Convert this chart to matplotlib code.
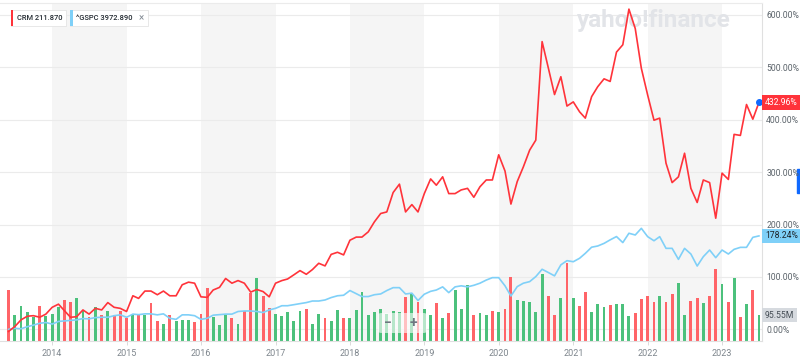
"""
CRM vs ^GSPC, percent change since mid 2013, with monthly CRM volume
"""

import pandas as pd
import matplotlib
matplotlib.use('Agg')
import matplotlib.pyplot as plt
import matplotlib.dates as mdates
from matplotlib.patches import Rectangle, FancyBboxPatch
from matplotlib.transforms import blended_transform_factory

plt.rcParams['font.family'] = ['Roboto', 'DejaVu Sans']

# monthly points, Jun 2013 .. Jul 2023
months = pd.date_range('2013-06-01', periods=122, freq='MS')

crm_pct = [
    -4, 5, 18, 25, 26, 23, 29,
    42, 48, 36, 23, 24, 37, 29, 40, 37, 51, 42, 40,
    34, 64, 59, 73, 73, 66, 73, 64, 64, 85, 90, 88,
    62, 61, 75, 80, 97, 88, 93, 88, 71, 76, 72, 62,
    88, 93, 96, 104, 112, 105, 114, 126, 121, 143, 147, 142,
    170, 176, 176, 186, 205, 221, 224, 261, 277, 224, 238, 224,
    259, 287, 275, 291, 259, 259, 266, 269, 252, 272, 285, 285,
    333, 302, 239, 282, 310, 342, 361, 549, 498, 448, 482, 426,
    434, 415, 403, 444, 463, 478, 473, 529, 543, 611, 574, 498,
    447, 399, 403, 317, 280, 291, 336, 269, 242, 285, 280, 212,
    298, 286, 372, 370, 429, 401, 432.96,
]

spx_pct = [
    0, 2, 1, 5, 8, 11.5, 13,
    10, 15, 16, 17, 18, 20.5, 20, 22.4, 23, 23, 26, 27.6,
    23, 29, 28, 29.5, 29.5, 27.6, 29.5, 21, 19, 27.6, 27.6, 26,
    19, 21, 27, 28, 29, 29, 34, 35, 35, 34, 32, 37,
    40, 45, 45, 47, 49, 51, 54, 54, 56, 60.6, 64, 65,
    74, 68, 62.5, 62.5, 66, 67.5, 74, 79.5, 79.5, 67.4, 69, 55,
    67, 72.5, 75, 81, 70, 81, 83, 81, 84, 88, 94, 98.6,
    98.6, 83, 63.5, 81.5, 88, 91, 100.6, 114.6, 108.3, 102, 123, 131,
    129, 135.6, 145, 156.7, 159, 164, 170.7, 177, 165.5, 183.3, 180, 192.7,
    176.8, 169, 176.8, 154.5, 154.5, 133.5, 154.5, 143.7, 120.8, 138.6, 151.3, 136.7,
    151.3, 143.7, 152.6, 156.4, 156.4, 175.5, 178.24,
]

# CRM volume, millions of shares
volume_m = [
    188, 97, 128, 108, 90, 127, 93,
    101, 124, 149, 143, 159, 112, 87, 124, 94, 111, 96, 110,
    85, 96, 100, 96, 139, 74, 63, 96, 75, 78, 76, 69,
    100, 194, 87, 60, 94, 85, 61, 112, 176, 231, 164, 122,
    100, 93, 106, 75, 112, 118, 63, 101, 85, 75, 113, 84,
    84, 113, 181, 97, 108, 119, 101, 111, 106, 161, 171, 145,
    119, 97, 138, 83, 102, 188, 116, 207, 95, 102, 95, 112,
    106, 119, 234, 149, 146, 145, 107, 245, 164, 94, 157, 286,
    157, 130, 181, 108, 135, 126, 133, 135, 135, 93, 102, 153,
    167, 143, 167, 143, 171, 214, 94, 146, 158, 141, 164, 264,
    208, 143, 233, 90, 137, 189, 95.55,
]

# 1 = up month (green), 0 = down month (red)
volume_up = [
    0, 1, 1, 1, 1, 0, 1,
    1, 1, 0, 0, 1, 1, 0, 1, 0, 1, 0, 0,
    0, 1, 0, 1, 0, 0, 1, 0, 1, 1, 1, 0,
    0, 0, 1, 1, 1, 0, 1, 0, 0, 1, 0, 0,
    1, 1, 1, 1, 1, 0, 1, 1, 0, 1, 1, 0,
    1, 1, 1, 1, 1, 1, 1, 1, 1, 0, 1, 0,
    1, 1, 0, 1, 0, 1, 1, 1, 0, 1, 1, 0,
    1, 0, 0, 1, 1, 1, 1, 1, 0, 0, 1, 0,
    1, 0, 0, 1, 1, 1, 0, 1, 1, 1, 0, 0,
    0, 0, 1, 0, 0, 1, 1, 0, 0, 1, 0, 0,
    1, 0, 1, 0, 1, 0, 1,
]

shaded_years = [2014, 2016, 2018, 2020, 2022]
pct_ticks = [0, 100, 200, 300, 400, 500, 600]

RED = '#ff333a'
BLUE = '#7fd0f8'
BAR_UP = '#4cc17c'
BAR_DOWN = '#ff6468'
W, H = 800, 363


def fx(x):
    return x / W


def fy(y):
    return 1 - y / H


fig = plt.figure(figsize=(8, 3.63), dpi=100)
vol_ax = fig.add_axes([0, fy(341), fx(762), (341 - 3) / H])
ax = vol_ax.twinx()
ax.set_zorder(vol_ax.get_zorder() + 1)
ax.patch.set_visible(False)

# year bands and grid behind the bars
for yr in shaded_years:
    vol_ax.axvspan(pd.Timestamp(f'{yr}-01-01'), pd.Timestamp(f'{yr + 1}-01-01'),
                   color='#f5f5f5', lw=0, zorder=0)
grid_tf = blended_transform_factory(vol_ax.transAxes, ax.transData)
for v in pct_ticks:
    vol_ax.plot([0, 1], [v, v], color='#ebebeb', lw=0.8, transform=grid_tf, zorder=0.5)

vol_ax.text(fx(654), fy(21), 'yahoo!finance', transform=fig.transFigure,
            ha='center', va='center', fontsize=17.5, fontweight='bold',
            color='#e2e4e8', zorder=0.6)

bar_colors = [BAR_UP if u else BAR_DOWN for u in volume_up]
vol_ax.bar(months, volume_m, width=14, color=bar_colors, zorder=1)
vol_ax.set_ylim(0, 338 * 3.675)

ax.plot(months, spx_pct, color=BLUE, lw=1.2, zorder=3)
ax.plot(months, crm_pct, color=RED, lw=1.2, zorder=4)
ax.plot(months[-1], crm_pct[-1], 'o', color='#0f69ff', ms=4, zorder=5, clip_on=False)

ax.set_xlim(pd.Timestamp('2013-04-20'), pd.Timestamp('2023-07-16'))
ax.set_ylim(-22.3, 622.7)

ax.set_yticks(pct_ticks)
ax.yaxis.set_major_formatter(plt.FuncFormatter(lambda v, p: f'{v:.2f}%'))
ax.tick_params(axis='y', length=0, pad=3, labelsize=6.2, labelcolor='#5b636a')

vol_ax.xaxis.set_major_locator(mdates.YearLocator())
vol_ax.xaxis.set_major_formatter(mdates.DateFormatter('%Y'))
vol_ax.tick_params(axis='x', length=3, width=0.6, color='#d5d5d5', pad=3,
                   labelsize=6.5, labelcolor='#7d858c')
vol_ax.tick_params(axis='y', left=False, labelleft=False)

for s in ax.spines.values():
    s.set_visible(False)
vol_ax.spines['left'].set_visible(False)
vol_ax.spines['top'].set_color('#ebebeb')
vol_ax.spines['bottom'].set_color('#e0e0e0')
vol_ax.spines['right'].set_color('#e0e0e0')
for s in vol_ax.spines.values():
    s.set_linewidth(0.8)

# value badges on the right axis
right_tf = blended_transform_factory(ax.transAxes, ax.transData)
ax.text(1.004, crm_pct[-1], f'{crm_pct[-1]:.2f}%', transform=right_tf, ha='left',
        va='center', fontsize=6.2, color='white', clip_on=False, zorder=6,
        bbox=dict(boxstyle='square,pad=0.3', fc=RED, ec='none'))
ax.text(1.004, spx_pct[-1], f'{spx_pct[-1]:.2f}%', transform=right_tf, ha='left',
        va='center', fontsize=6.2, color='#1d2228', clip_on=False, zorder=6,
        bbox=dict(boxstyle='square,pad=0.3', fc=BLUE, ec='none'))
vol_tf = blended_transform_factory(vol_ax.transAxes, vol_ax.transData)
vol_ax.text(1.004, volume_m[-1], f'{volume_m[-1]:.2f}M', transform=vol_tf, ha='left',
            va='center', fontsize=6.2, color='#464e56', clip_on=False, zorder=6,
            bbox=dict(boxstyle='square,pad=0.3', fc='#d6dadf', ec='none'))

fig.add_artist(Rectangle((fx(796.5), fy(193)), 3.5 / W, 24 / H,
                         transform=fig.transFigure, color='#0f69ff'))

# symbol chips, top left
for x0, x1, col, label in [(10.7, 65.7, RED, 'CRM 211.870'),
                           (70, 148, BLUE, '^GSPC 3972.890')]:
    fig.add_artist(Rectangle((fx(x0), fy(25.5)), (x1 - x0) / W, 15.5 / H,
                             transform=fig.transFigure, fc='white', ec='#e4e4e4', lw=0.6))
    fig.add_artist(Rectangle((fx(x0), fy(25.5)), 2.5 / W, 15.5 / H,
                             transform=fig.transFigure, fc=col, ec='none'))
    fig.text(fx(x0 + 6), fy(17.8), label, ha='left', va='center', fontsize=5.4,
             fontweight='medium', color='#232a31')
fig.text(fx(141.5), fy(17.8), '×', ha='center', va='center', fontsize=7, color='#828a93')

# zoom buttons
fig.add_artist(FancyBboxPatch((fx(378), fy(333)), 49 / W, 20 / H,
                              boxstyle='round,pad=0,rounding_size=0.005',
                              transform=fig.transFigure, fc='white', ec='none', alpha=0.6))
fig.text(fx(388), fy(323), '−', ha='center', va='center', fontsize=10,
         fontweight='bold', color='#6e7780')
fig.text(fx(413), fy(323), '+', ha='center', va='center', fontsize=10,
         fontweight='bold', color='#6e7780')

plt.savefig('out.png', dpi=100)
